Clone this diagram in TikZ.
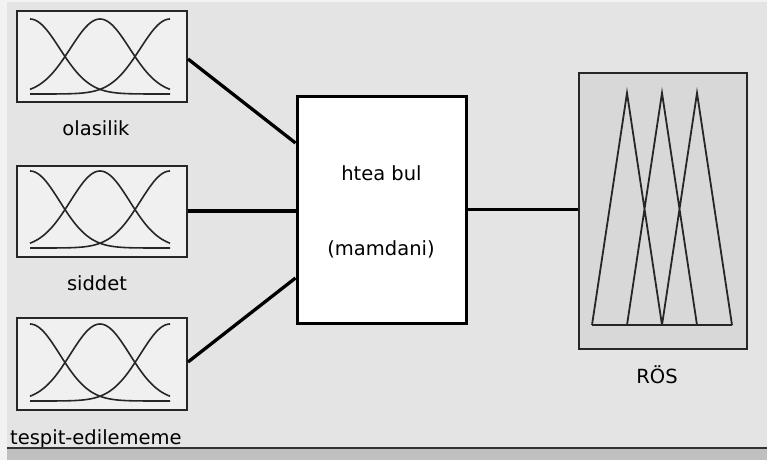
\documentclass[tikz,border=0pt]{standalone}
\usepackage{fontspec}
\setmainfont{DejaVu Sans}
\begin{document}
\begin{tikzpicture}[x=1pt,y=-1pt,
  inbox/.style={draw=black!85,line width=2pt,fill=inboxfill,minimum width=170pt,minimum height=91pt,inner sep=0pt},
  midbox/.style={draw=black,line width=3pt,fill=white,minimum width=169pt,minimum height=227pt,inner sep=0pt},
  outbox/.style={draw=black!85,line width=2pt,fill=outboxfill,minimum width=168pt,minimum height=276pt,inner sep=0pt},
  conn/.style={draw=black,line width=3.3pt},
  mf/.style={draw=black!85,line width=1.6pt,line join=round},
  lbl/.style={font=\fontsize{19.5}{22}\selectfont,text=black,inner sep=0pt,anchor=base}
]
\definecolor{bgfill}{RGB}{228,228,228}
\definecolor{inboxfill}{RGB}{240,240,240}
\definecolor{outboxfill}{RGB}{216,216,216}
\definecolor{framefill}{RGB}{242,242,242}
\definecolor{barfill}{RGB}{192,192,192}
\useasboundingbox (0,0) rectangle (767,460);
\fill[bgfill] (0,0) rectangle (767,460);
\fill[framefill] (0,0) rectangle (7,460);
\fill[framefill] (0,0) rectangle (767,2);

% input boxes
\node[inbox] (in1) at (102,56.5) {};
\node[inbox] (in2) at (102,211) {};
\node[inbox,minimum height=92pt] (in3) at (102,364) {};

% gaussian membership functions
\foreach \yb/\yt in {94/19, 248/171, 401/324}{
  \pgfmathsetmacro{\hh}{\yb-\yt}
  \foreach \c in {30,100,170}{
    \draw[mf] plot[domain=30:170,samples=71,smooth] (\x,{\yb-\hh*exp(-0.5*((\x-\c)/29.7)^2)});
  }
}

% rule block
\node[midbox] (mid) at (381.5,209.5) {};
\node[lbl] (t1) at (381.5,180) {htea bul};
\node[lbl] (t2) at (381,255) {(mamdani)};

% output box
\node[outbox] (out) at (663,211) {};
\draw[mf,line width=1.8pt,line join=miter]
  (592,325) -- (627,93) -- (662,325)
  (627,325) -- (662,93) -- (697,325)
  (662,325) -- (697,93) -- (732,325)
  (592,325) -- (732,325);

% connectors
\draw[conn] ([yshift=-2.5pt]in1.east) -- ([yshift=66.5pt]mid.west);
\draw[conn] (in2.east) -- (in2.east -| mid.west);
\draw[conn] ([yshift=2pt]in3.east) -- ([yshift=-68.5pt]mid.west);
\draw[conn] (mid.east) -- (mid.east -| out.west);

% labels
\node[lbl] (l1) at (96,135) {olasilik};
\node[lbl] (l2) at (97,290) {siddet};
\node[lbl,anchor=base west] (l3) at (10,444) {tespit-edilememe};
\node[lbl] (l4) at (657,383) {RÖS};

% bottom bar
\fill[barfill] (7,448) rectangle (767,460);
\draw[black!80,line width=2pt] (7,447.5) -- (767,447.5);
\end{tikzpicture}
\end{document}
